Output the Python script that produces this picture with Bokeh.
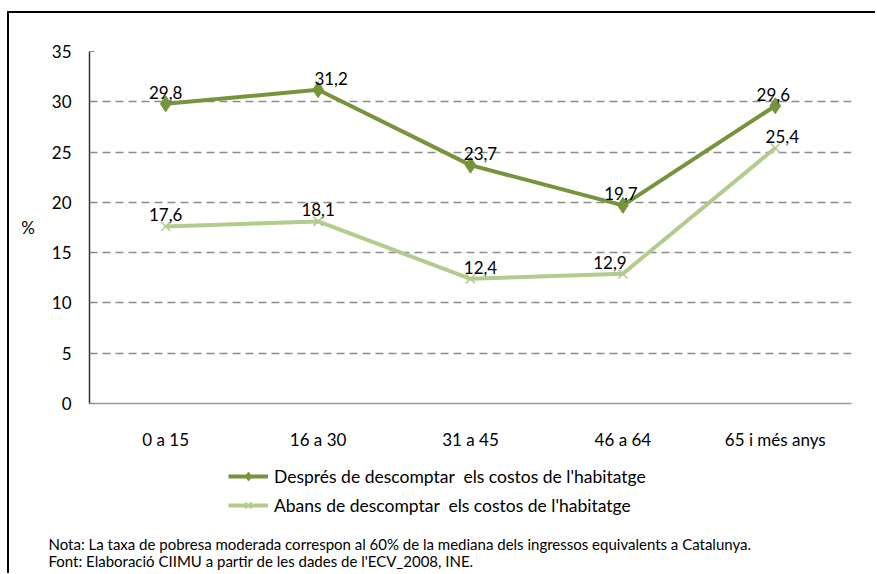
from bokeh.plotting import figure
from bokeh.layouts import column
from bokeh.models import (FactorRange, Range1d, FixedTicker, Legend, LegendItem,
                          Label, ColumnDataSource, LabelSet)
from bokeh.core.properties import value
from bokeh.embed import file_html
from bokeh.resources import INLINE

categories = ["0 a 15", "16 a 30", "31 a 45", "46 a 64", "65 i més anys"]
despres = [29.8, 31.2, 23.7, 19.7, 29.6]
abans = [17.6, 18.1, 12.4, 12.9, 25.4]
y_ticks = [0, 5, 10, 15, 20, 25, 30, 35]
name_despres = "Després de descomptar  els costos de l'habitatge"
name_abans = "Abans de descomptar  els costos de l'habitatge"
note1 = "Nota: La taxa de pobresa moderada correspon al 60% de la mediana dels ingressos equivalents a Catalunya."
note2 = "Font: Elaboració CIIMU a partir de les dades de l'ECV_2008, INE."

# small pixel nudges of the value labels (style only)
despres_label_dx = [0, 13, 10, -2, -2]
abans_label_dx = [0, 0, 10, -13, 7]

FONT = "Lato"
FS = "17px"
C_DARK = "#77933C"
C_LIGHT = "#B3CC8E"
W = 866

# ---------------- main chart ----------------
p = figure(x_range=FactorRange(*categories), y_range=Range1d(0, 35),
           width=W, height=439, output_backend="svg", toolbar_location=None,
           min_border_left=80, min_border_right=24, min_border_top=38,
           min_border_bottom=40)
p.outline_line_color = None
p.background_fill_color = "white"
p.border_fill_color = "white"

p.yaxis.ticker = FixedTicker(ticks=y_ticks)
p.yaxis.major_tick_in = 5
p.yaxis.major_tick_out = 0
p.yaxis.major_tick_line_color = "#888888"
p.yaxis.minor_tick_line_color = None
p.yaxis.axis_line_color = "#333333"
p.yaxis.axis_line_width = 1.5
p.yaxis.major_label_standoff = 18
p.yaxis.major_label_text_font = FONT
p.yaxis.major_label_text_font_size = FS
p.yaxis.major_label_text_color = "#000000"
p.yaxis.axis_label = "%"
p.yaxis.axis_label_orientation = "horizontal"
p.yaxis.axis_label_text_font = FONT
p.yaxis.axis_label_text_font_size = FS
p.yaxis.axis_label_text_font_style = "normal"
p.yaxis.axis_label_text_color = "#000000"
p.yaxis.axis_label_standoff = 14

p.xaxis.major_tick_line_color = None
p.xaxis.minor_tick_line_color = None
p.xaxis.axis_line_color = "#999999"
p.xaxis.axis_line_width = 1.5
p.xaxis.major_label_standoff = 19
p.xaxis.major_label_text_font = FONT
p.xaxis.major_label_text_font_size = FS
p.xaxis.major_label_text_color = "#000000"

p.xgrid.grid_line_color = None
p.ygrid.grid_line_color = "#8c8c8c"
p.ygrid.grid_line_dash = "8 5"
p.ygrid.grid_line_width = 1.5

src = ColumnDataSource(dict(x=categories, d=despres, a=abans,
                            dl=[f"{v:.1f}".replace(".", ",") for v in despres],
                            al=[f"{v:.1f}".replace(".", ",") for v in abans],
                            ddx=despres_label_dx, adx=abans_label_dx))

line_d = dict(line_color=C_DARK, line_width=4)
line_a = dict(line_color=C_LIGHT, line_width=4)
mark_d = dict(marker="diamond", size=16, fill_color=C_DARK, line_color=C_DARK)
mark_a = dict(marker="x", size=13, line_color=C_LIGHT, line_width=1.5)

p.line("x", "a", source=src, **line_a)
p.scatter("x", "a", source=src, **mark_a)
p.line("x", "d", source=src, **line_d)
p.scatter("x", "d", source=src, **mark_d)

for col, lab, dx in (("d", "dl", "ddx"), ("a", "al", "adx")):
    p.add_layout(LabelSet(x="x", y=col, text=lab, source=src, text_align="center",
                          text_baseline="alphabetic", x_offset=dx, y_offset=5,
                          text_font=value(FONT), text_font_size=FS,
                          text_color="#000000"))

# ---------------- legend + notes strip ----------------
# shares the category axis; its y range lies far above the data, so the
# series drawn here only serve as legend entries and stay out of view
pb = figure(width=W, height=121, output_backend="svg", toolbar_location=None,
            x_range=p.x_range, y_range=Range1d(1000, 1001),
            x_axis_type=None, y_axis_type=None,
            min_border=0, min_border_left=0, min_border_right=0,
            min_border_top=0, min_border_bottom=0)
pb.outline_line_color = None
pb.grid.visible = False
pb.background_fill_color = "white"
pb.border_fill_color = "white"

lb1 = pb.line("x", "d", source=src, **line_d)
sb1 = pb.scatter("x", "d", source=src, **mark_d)
lb2 = pb.line("x", "a", source=src, **line_a)
sb2 = pb.scatter("x", "a", source=src, **mark_a)

legend = Legend(items=[LegendItem(label=name_despres, renderers=[lb1, sb1]),
                       LegendItem(label=name_abans, renderers=[lb2, sb2])],
                location=(219, 57), glyph_width=40, glyph_height=22,
                spacing=7, label_standoff=6, padding=0, margin=0,
                border_line_color=None, background_fill_alpha=0,
                label_text_font=FONT, label_text_font_size="17.5px",
                label_text_color="#000000")
pb.add_layout(legend, "center")

for t, yy in ((note1, 30), (note2, 13)):
    pb.add_layout(Label(x=39, y=yy, x_units="screen", y_units="screen", text=t,
                        text_baseline="middle", text_font=FONT,
                        text_font_size="15px", text_color="#000000"))

for f in (p, pb):
    if "frame_align" in f.properties():
        f.frame_align = False

layout = column(p, pb, spacing=0,
                styles={"border-left": "2px solid #000", "border-top": "2px solid #000",
                        "margin-top": "11px", "margin-left": "7px"})

open("out.html", "w").write(file_html(layout, INLINE))
